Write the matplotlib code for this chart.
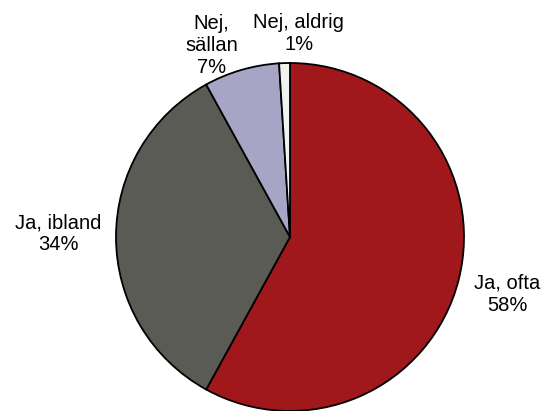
import matplotlib
matplotlib.use("Agg")
import matplotlib.pyplot as plt

plt.rcParams["font.family"] = ["Liberation Sans", "DejaVu Sans"]

labels = ["Ja, ofta", "Ja, ibland", "Nej,\nsällan", "Nej, aldrig"]
values = [58, 34, 7, 1]
colors = ["#A0181C", "#5B5B56", "#A6A5C6", "#F2F2F0"]
# label centres in radius units (relative to pie centre)
label_pos = [(1.25, -0.33), (-1.33, 0.02), (-0.45, 1.10), (0.05, 1.17)]

W, H = 545, 411
cx, cy, r = 290, 237, 174
fig = plt.figure(figsize=(W / 100, H / 100), dpi=100)
ax = fig.add_axes([(cx - r) / W, (H - cy - r) / H, 2 * r / W, 2 * r / H])
ax.pie(values, colors=colors, startangle=90, counterclock=False, radius=1,
       wedgeprops=dict(edgecolor="black", linewidth=1.3))
for lab, v, (x, y) in zip(labels, values, label_pos):
    ax.text(x, y, f"{lab}\n{v}%", ha="center", va="center", fontsize=14.5,
            linespacing=1.2, clip_on=False)
ax.set_xlim(-1, 1); ax.set_ylim(-1, 1)
ax.set_aspect("equal")
ax.axis("off")
fig.savefig("out.png", dpi=100)
